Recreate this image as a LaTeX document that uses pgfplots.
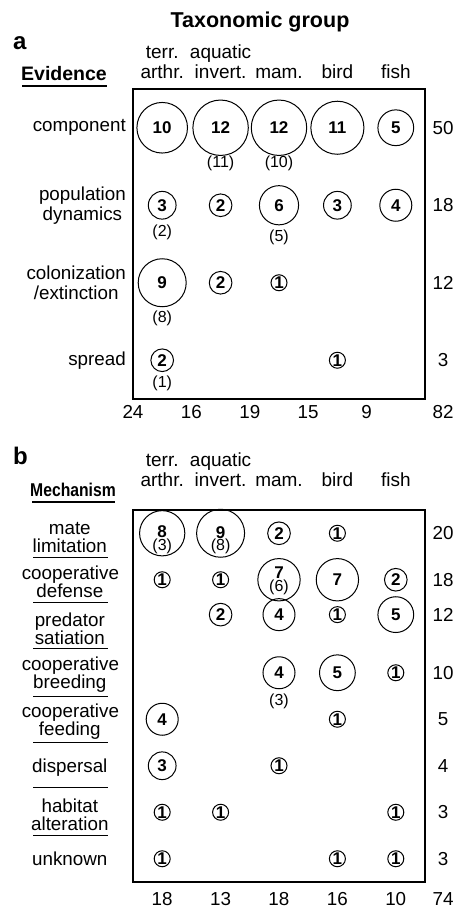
\documentclass[border=0pt]{standalone}
\usepackage{fontspec}
\setmainfont{Liberation Sans}
\usepackage{pgfplots}
\usepackage{pgfplotstable}
\pgfplotsset{compat=1.18}

\newcommand\lab{\fontsize{18.8}{18}\selectfont}

% evidence panel: column, row, count, upward shift of the count (pt)
\pgfplotstableread{
x y n dy
1 1 10 0
2 1 12 0
3 1 12 0
4 1 11 0
5 1 5 0
1 2 3 0
2 2 2 0
3 2 6 0
4 2 3 0
5 2 4 0
1 3 9 0
2 3 2 0
3 3 1 0
1 4 2 0
4 4 1 0
}\evid
% numbers in brackets, dy = distance below the centre (pt)
\pgfplotstableread{
x y s dy
2 1 11 36
3 1 10 36
1 2 2 27
3 2 5 32
1 3 8 36
1 4 1 23
}\evidsub

% mechanism panel
\pgfplotstableread{
x y n dy
1 1 8 2
2 1 9 1
3 1 2 0
4 1 1 0
1 2 1 0
2 2 1 0
3 2 7 7
4 2 7 0
5 2 2 0
2 2.75 2 0
3 2.75 4 0
4 2.75 1 0
5 2.75 5 0
3 4 4 0
4 4 5 0
5 4 1 0
1 5 4 0
4 5 1 0
1 6 3 0
3 6 1 0
1 7 1 0
2 7 1 0
5 7 1 0
1 8 1 0
4 8 1 0
5 8 1 0
}\mech
\pgfplotstableread{
x y s dy
1 1 3 13
2 1 8 13
3 2 6 8
3 4 3 29
}\mechsub

\pgfplotsset{
  circles/.style={
    scatter, only marks, mark=o, line width=1pt,
    point meta=explicit,
    scatter/use mapped color={draw=black},
    visualization depends on={8*sqrt(\thisrow{n}) \as \rad},
    scatter/@pre marker code/.append style={/tikz/mark size=\rad},
  },
  counts/.style={
    only marks, mark=none,
    point meta=explicit symbolic,
    visualization depends on={\thisrow{dy} \as \ndy},
    nodes near coords,
    nodes near coords style={anchor=center, yshift=\ndy, inner sep=0pt,
      text=black, font=\fontsize{17}{17}\selectfont\bfseries},
  },
  subs/.style={
    only marks, mark=none,
    point meta=explicit symbolic,
    visualization depends on={\thisrow{dy} \as \sdy},
    nodes near coords={(\pgfplotspointmeta)},
    nodes near coords style={anchor=center, yshift=-\sdy, inner sep=0pt,
      text=black, font=\fontsize{16}{16}\selectfont},
  },
  panel/.style={
    anchor=south west, scale only axis, width=292pt,
    xmin=0.5, xmax=5.5, y dir=reverse, clip=false,
    axis line style={line width=1.2pt}, major tick length=0pt,
    xtick={1,...,5},
    xticklabels={terr.\\arthr., aquatic\\invert., mam., bird, fish},
    xticklabel pos=upper,
  },
  totals/.style={
    anchor=south west, scale only axis, width=310pt,
    xmin=0.5, xmax=5.81, y dir=reverse,
    axis line style={draw=none}, major tick length=0pt,
    yticklabel pos=right,
    yticklabel style={anchor=center, inner sep=0pt, font=\lab},
  },
}

\begin{document}
\begin{tikzpicture}[x=1pt, y=1pt]
\path[use as bounding box] (0pt,0pt) rectangle (453pt,908pt);

% ---- a: evidence
\begin{axis}[panel, at={(133pt,509pt)}, height=310pt, ymin=0.5, ymax=4.5,
  xticklabel style={align=center, anchor=south, yshift=10pt, inner sep=0pt,
    font=\fontsize{19}{20}\selectfont},
  ytick={1,...,4},
  yticklabels={component, population\\dynamics, colonization\\/extinction, spread},
  yticklabel style={align=center, anchor=east, xshift=-7pt, inner sep=0pt,
    font=\fontsize{18.8}{20}\selectfont},
]
\addplot[circles] table[x=x, y=y, meta=n] {\evid};
\addplot[counts] table[x=x, y=y, meta=n] {\evid};
\addplot[subs] table[x=x, y=y, meta=s] {\evidsub};
\end{axis}
\begin{axis}[totals, at={(133pt,509pt)}, height=310pt, ymin=0.5, ymax=4.5,
  xtick={0.5,1.5,2.5,3.5,4.5,5.81}, xticklabels={24,16,19,15,9,82},
  xticklabel style={anchor=center, yshift=-13pt, inner sep=0pt, font=\lab},
  ytick={1,2,3,4}, yticklabels={50,18,12,3},
]
\end{axis}

% ---- b: mechanism
\begin{axis}[panel, at={(133pt,26pt)}, height=372pt, ymin=0.5, ymax=8.5,
  xticklabel style={align=center, anchor=south, yshift=23pt, inner sep=0pt,
    font=\fontsize{19}{20}\selectfont},
  ytick={1.1,2.05,3.05,4.05,5.05,6.05,7.05,8},
  yticklabels={mate\\limitation, cooperative\\defense, predator\\satiation,
    cooperative\\breeding, cooperative\\feeding, dispersal,
    habitat\\alteration, unknown},
  yticklabel style={text width=96pt, align=center, anchor=east, xshift=-15pt,
    inner sep=0pt, font=\fontsize{18.8}{18}\selectfont},
]
\addplot[circles] table[x=x, y=y, meta=n] {\mech};
\addplot[counts] table[x=x, y=y, meta=n] {\mech};
\addplot[subs] table[x=x, y=y, meta=s] {\mechsub};
\end{axis}
\begin{axis}[totals, at={(133pt,26pt)}, height=372pt, ymin=0.5, ymax=8.5,
  xtick={1,2,3,4,5,5.81}, xticklabels={18,13,18,16,10,74},
  xticklabel style={anchor=center, yshift=-17pt, inner sep=0pt, font=\lab},
  ytick={1,2,2.75,4,5,6,7,8}, yticklabels={20,18,12,10,5,4,3,3},
]
\end{axis}

% titles and rules
\node[anchor=base, inner sep=0pt, font=\fontsize{21.5}{22}\selectfont\bfseries]
  at (260pt,880pt) {Taxonomic group};
\node[anchor=base west, inner sep=0pt, font=\fontsize{24}{24}\selectfont\bfseries]
  at (13pt,858pt) {a};
\node[anchor=base, inner sep=0pt, font=\fontsize{19.5}{20}\selectfont\bfseries]
  at (64pt,827pt) {Evidence};
\draw[line width=1.5pt] (22pt,822pt) -- (107pt,822pt);
\node[anchor=base west, inner sep=0pt, font=\fontsize{24}{24}\selectfont\bfseries]
  at (13pt,443pt) {b};
\node[anchor=base, inner sep=0pt, xscale=0.85,
  font=\fontsize{18.5}{19}\selectfont\bfseries] at (73pt,411pt) {Mechanism};
\draw[line width=1.5pt] (32pt,406pt) -- (115pt,406pt);
\foreach \yy in {350,305,259,211,165,120,72}
  \draw[line width=1pt] (33pt,\yy pt) -- (108pt,\yy pt);
\end{tikzpicture}
\end{document}
